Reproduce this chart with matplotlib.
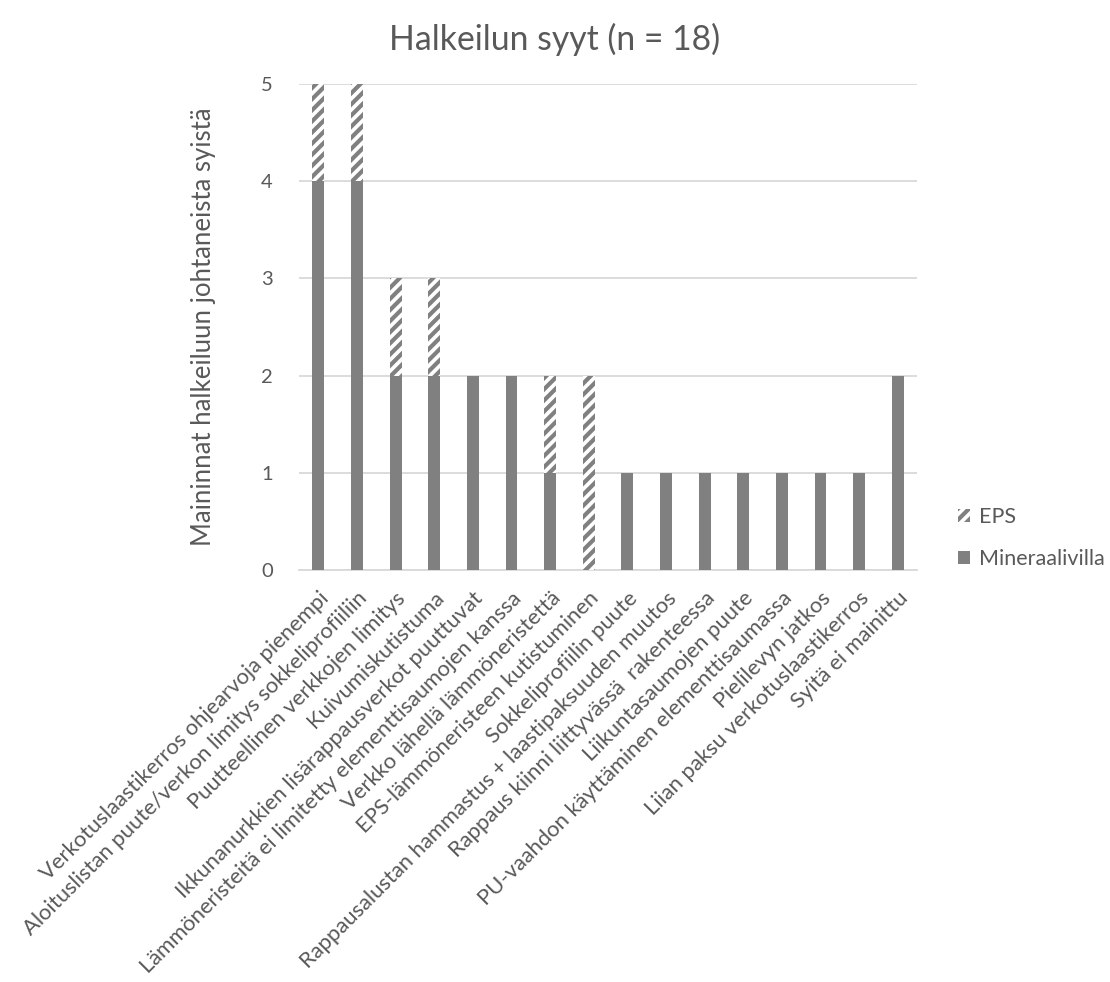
import numpy as np
import matplotlib.pyplot as plt

plt.rcParams['font.family'] = ['Lato', 'DejaVu Sans']
plt.rcParams['hatch.linewidth'] = 3.0
plt.rcParams['hatch.color'] = '#808080'

# Halkeilun syyt
syyt = [
    'Verkotuslaastikerros ohjearvoja pienempi',
    'Aloituslistan puute/verkon limitys sokkeliprofiiliin',
    'Puutteellinen verkkojen limitys',
    'Kuivumiskutistuma',
    'Ikkunanurkkien lisärappausverkot puuttuvat',
    'Lämmöneristeitä ei limitetty elementtisaumojen kanssa',
    'Verkko lähellä lämmöneristettä',
    'EPS-lämmöneristeen kutistuminen',
    'Sokkeliprofiilin puute',
    'Rappausalustan hammastus + laastipaksuuden muutos',
    'Rappaus kiinni liittyvässä  rakenteessa',
    'Liikuntasaumojen puute',
    'PU-vaahdon käyttäminen elementtisaumassa',
    'Pielilevyn jatkos',
    'Liian paksu verkotuslaastikerros',
    'Syitä ei mainittu',
]
mineraalivilla = [4, 4, 2, 2, 2, 2, 1, 0, 1, 1, 1, 1, 1, 1, 1, 2]
eps = [1, 1, 1, 1, 0, 0, 1, 2, 0, 0, 0, 0, 0, 0, 0, 0]

teksti = '#595959'
harmaa = '#808080'

fig = plt.figure(figsize=(11.1, 9.82), dpi=100)
ax = fig.add_axes([0.2694, 0.4196, 0.5568, 0.4949])

x = np.arange(len(syyt))
lev = 0.31
ax.bar(x, mineraalivilla, lev, color=harmaa, label='Mineraalivilla', zorder=3)
ax.bar(x, eps, lev, bottom=mineraalivilla, facecolor='white', edgecolor=harmaa,
       hatch='///', linewidth=0, label='EPS', zorder=3)

ax.set_xlim(-0.5, len(syyt) - 0.5)
ax.set_ylim(0, 5)
ax.set_yticks(range(6))
ax.yaxis.grid(True, color='#d9d9d9', linewidth=1.3, zorder=0)
for s in ['top', 'right', 'left']:
    ax.spines[s].set_visible(False)
ax.spines['bottom'].set_color('#d9d9d9')
ax.spines['bottom'].set_linewidth(1.3)
ax.tick_params(axis='both', length=0, colors=teksti, labelsize=14.5)
ax.tick_params(axis='y', pad=19)

ax.set_xticks(x)
ax.set_xticklabels(syyt, rotation=45, ha='right', rotation_mode='anchor',
                   fontsize=15.8, color=teksti)
ax.tick_params(axis='x', pad=13)

ax.set_ylabel('Maininnat halkeiluun johtaneista syistä', fontsize=18.5,
              color=teksti, labelpad=32)
fig.text(0.5, 0.96, 'Halkeilun syyt (n = 18)', ha='center', va='center',
         fontsize=24.3, color=teksti)

h, l = ax.get_legend_handles_labels()
leg = fig.legend(h[::-1], l[::-1], loc='center left', bbox_to_anchor=(0.846, 0.452),
                 frameon=False, fontsize=15.5, labelcolor=teksti,
                 handlelength=0.55, handleheight=0.55, handletextpad=0.4,
                 labelspacing=1.0)

fig.savefig('out.png', dpi=100)
